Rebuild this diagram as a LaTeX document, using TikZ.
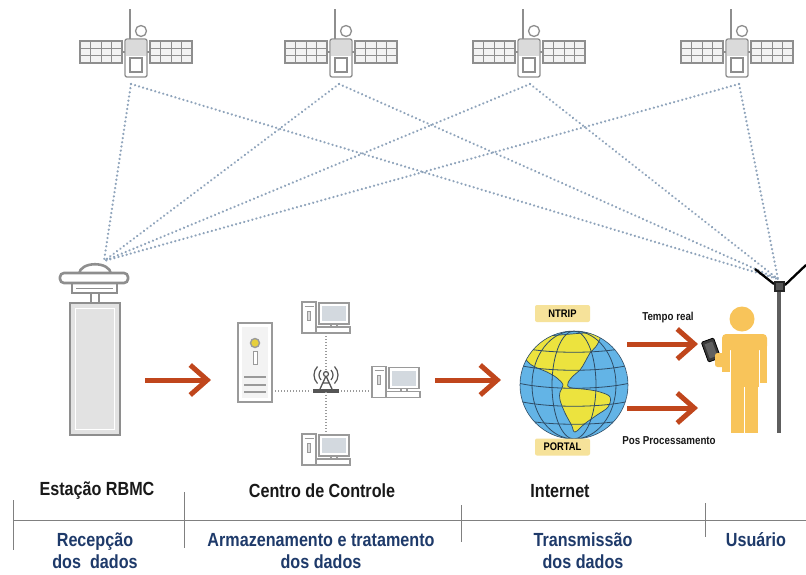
\documentclass[tikz,border=0pt]{standalone}
\usepackage{fontspec}
\setmainfont{Liberation Sans}
\newfontfamily\narrowfont{Liberation Sans}[FakeStretch=0.85]
\usetikzlibrary{arrows.meta}

\definecolor{satgray}{HTML}{8E8E8E}
\definecolor{panelfill}{HTML}{F3F3F3}
\definecolor{bodyfill}{HTML}{DADADA}
\definecolor{dotblue}{HTML}{8FA4BB}
\definecolor{rust}{HTML}{C0461C}
\definecolor{globeblue}{HTML}{63B4E6}
\definecolor{landyellow}{HTML}{ECE33E}
\definecolor{gridline}{HTML}{2E4C66}
\definecolor{tagyellow}{HTML}{F6E29A}
\definecolor{personyellow}{HTML}{F8C45A}
\definecolor{navy}{HTML}{1E3A6A}
\definecolor{pcgray}{HTML}{9A9A9A}
\definecolor{screenfill}{HTML}{D3D9DF}
\definecolor{stationfill}{HTML}{E2E2E2}
\definecolor{routerdark}{HTML}{555555}
\definecolor{ledyellow}{HTML}{E6CF3C}
\definecolor{tabletdark}{HTML}{3A3A3A}
\definecolor{polegray}{HTML}{5E5E5E}

\tikzset{
  satline/.style={draw=satgray, line width=1.3pt},
  satthin/.style={draw=satgray, line width=0.8pt},
  sigline/.style={draw=dotblue, line width=2.5pt, line cap=round, dash pattern=on 0.01pt off 4.2pt},
  lan/.style={draw=pcgray, line width=1.3pt, dash pattern=on 1.4pt off 1.6pt},
  pcline/.style={draw=pcgray, line width=1.4pt},
  pcthin/.style={draw=pcgray, line width=0.8pt},
  station/.style={draw=satgray, line width=2.6pt},
  flow/.style={draw=rust, line width=5pt,
    -{Straight Barb[length=17pt, width=30pt]}},
  tag/.style={fill=tagyellow, rounded corners=2pt, minimum width=55pt,
    minimum height=17pt, inner sep=0pt, font=\narrowfont\bfseries\fontsize{11}{12}\selectfont},
  lbl/.style={inner sep=0pt, font=\narrowfont\bfseries\fontsize{19}{22}\selectfont, text=black!90},
  stage/.style={inner sep=0pt, align=center, font=\narrowfont\bfseries\fontsize{19}{22}\selectfont, text=navy},
  small/.style={inner sep=0pt, font=\narrowfont\bfseries\fontsize{11.5}{13}\selectfont, text=black!90},
  slot/.style={inner sep=0pt, outer sep=0pt},
  rule/.style={draw=gray, line width=0.9pt},
  % satellite drawn from the top centre of its body
  sat/.pic={
    \foreach \s in {-1,1}{
      \draw[satline, fill=panelfill] (14*\s,2) rectangle (56*\s,24);
      \foreach \c in {24.5,35,45.5} \draw[satthin] (\c*\s,2) -- (\c*\s,24);
      \draw[satthin] (14*\s,9.3) -- (56*\s,9.3);
      \draw[satthin] (14*\s,16.7) -- (56*\s,16.7);
      \draw[satline] (11*\s,13) -- (14*\s,13);
    }
    \draw[satline, fill=white, rounded corners=2pt] (-11,0) rectangle (11,38);
    \fill[bodyfill] (-9.6,1.4) rectangle (9.6,17);
    \draw[satline] (-6,19) rectangle (6,33);
    \draw[satline] (-6,0) -- (-6,-30);
    \draw[satline, fill=white] (5,-8) circle[radius=5.5pt];
  },
  % desktop computer drawn from its top left corner
  pc/.pic={
    \draw[pcline, fill=white] (0,0) rectangle (14,31);
    \draw[pcthin] (2.5,4) -- (11.5,4);
    \draw[pcthin, fill=bodyfill] (5.5,9) rectangle (8.5,18);
    \draw[pcline, fill=white] (17,1) rectangle (47,22);
    \fill[screenfill] (20,4) rectangle (44,19);
    \draw[pcline] (14,25) -- (48,25) -- (48,31) -- (14,31);
    \draw[pcline] (29,22) -- (29,25) (35,22) -- (35,25);
  },
  % wireless router drawn from its centre
  router/.pic={
    \fill[routerdark] (-13,8) rectangle (13,12);
    \draw[routerdark, line width=1.3pt] (-6,8) -- (0,-5) -- (6,8) (-3.5,2) -- (3.5,2);
    \draw[routerdark, line width=1.2pt, fill=white] (0,-7) circle[radius=2.5pt];
    \foreach \r in {7,12}{
      \draw[routerdark, line width=1.2pt] (0,-6) ++(135:\r pt) arc[start angle=135, end angle=225, radius=\r pt];
      \draw[routerdark, line width=1.2pt] (0,-6) ++(-45:\r pt) arc[start angle=-45, end angle=45, radius=\r pt];
    }
  }
}

\begin{document}
\begin{tikzpicture}[x=1pt, y=-1pt]
\useasboundingbox (0,0) rectangle (806,574);
\fill[white] (0,0) rectangle (806,574);

% ---------- receiving antennas (signal end points) ----------
\coordinate (rbmcant) at (104,261);
\coordinate (roverant) at (778,279);

% ---------- satellites ----------
\foreach \n/\x/\dx in {1/136/-5, 2/341/-2, 3/529/1, 4/737/2}{
  \pic at (\x,39) {sat};
  \coordinate (sat\n) at (\x+\dx,84);
}

% ---------- signal paths ----------
\foreach \n in {1,...,4}{
  \draw[sigline] (sat\n) -- (rbmcant);
  \draw[sigline] (sat\n) -- (roverant);
}

% ---------- RBMC station ----------
\node[slot, minimum width=50pt, minimum height=132pt] (rbmc) at (95,369) {};
\draw[station, fill=stationfill] (rbmc.north west) rectangle (rbmc.south east);
\draw[white, line width=1.2pt] (75.5,308.5) rectangle (114.5,429.5);
\draw[satline, fill=white] (91,292) rectangle (99,303);
\draw[station, fill=white] (72,283) rectangle (117,293);
\draw[satthin] (76,288) -- (113,288);
\draw[station, fill=white] (79,274) .. controls (80,261) and (110,261) .. (111,274);
\draw[station, fill=white, rounded corners=4pt] (60,273) rectangle (128,283);

% ---------- control centre ----------
\node[slot, minimum width=34pt, minimum height=79pt] (server) at (255,362.5) {};
\draw[pcline, fill=white] (server.north west) rectangle (server.south east);
\fill[panelfill] (242,327) rectangle (268,398);
\draw[pcline, fill=ledyellow] (255,343) circle[radius=4.5pt];
\draw[pcthin, fill=white] (253,351) rectangle (257,364);
\foreach \yy in {377,385,392} \draw[pcline] (244,\yy) -- (266,\yy);

\node[slot, minimum width=48pt, minimum height=31pt] (pcTop) at (326,317.5) {};
\node[slot, minimum width=48pt, minimum height=31pt] (pcRight) at (396,382) {};
\node[slot, minimum width=48pt, minimum height=31pt] (pcBot) at (326,449.5) {};
\foreach \p in {pcTop,pcRight,pcBot} \pic at (\p.north west) {pc};

\node[slot, minimum width=28pt, minimum height=22pt] (router) at (326,381) {};
\pic at (router.center) {router};
\coordinate (routerbase) at (326,391);

\draw[lan] (server.east |- routerbase) -- ([xshift=-15pt]routerbase);
\draw[lan] ([xshift=15pt]routerbase) -- (pcRight.west |- routerbase);
\draw[lan] (pcTop.south) -- ([yshift=-3pt]router.north);
\draw[lan] (router.south) -- (pcBot.north);

% ---------- flow arrows ----------
\coordinate (f1a) at (145,380); \coordinate (f1b) at (211,380);
\coordinate (f2a) at (435,380); \coordinate (f2b) at (501,380);
\draw[flow] (f1a) -- (f1b);
\draw[flow] (f2a) -- (f2b);

% ---------- internet globe ----------
\node[slot, circle, minimum size=108pt] (globe) at (574,385) {};
\begin{scope}
  \clip (globe.center) circle[radius=54pt];
  \fill[globeblue] (globe.center) circle[radius=54pt];
  \fill[landyellow] plot[smooth cycle, tension=0.6] coordinates {
    (530,340) (543,336.5) (560,335) (587,333) (600,335) (597,345) (590,353)
    (585,362) (580,370) (573,376) (568,383) (570,387.5) (587,389.5) (600,392)
    (610,397) (608,407) (597,415) (585,423.5) (575,432) (571.5,425) (565,413)
    (560,400) (560,392) (563,385) (557,378) (547,372) (535,367) (528,362) (523,353)};
  \draw[gridline, line width=0.7pt] plot[smooth cycle, tension=0.6] coordinates {
    (530,340) (543,336.5) (560,335) (587,333) (600,335) (597,345) (590,353)
    (585,362) (580,370) (573,376) (568,383) (570,387.5) (587,389.5) (600,392)
    (610,397) (608,407) (597,415) (585,423.5) (575,432) (571.5,425) (565,413)
    (560,400) (560,392) (563,385) (557,378) (547,372) (535,367) (528,362) (523,353)};
  \foreach \dy in {-38,-20,-2,16,34}
    \draw[gridline, line width=0.8pt] (518,385+\dy) .. controls (548,392+\dy) and (600,392+\dy) .. (630,385+\dy);
  \draw[gridline, line width=0.8pt] (globe.center) ellipse[x radius=22pt, y radius=54pt];
  \draw[gridline, line width=0.8pt] (globe.center) ellipse[x radius=42pt, y radius=54pt];
\end{scope}
\draw[gridline, line width=0.6pt] (globe.center) circle[radius=54pt];

\node[tag] (ntrip) at (562.5,313.5) {NTRIP};
\node[tag] (portal) at (562.5,447) {PORTAL};

% ---------- user ----------
\coordinate (f3a) at (627,344); \coordinate (f3b) at (698,344);
\coordinate (f4a) at (627,408); \coordinate (f4b) at (698,408);
\draw[flow] (f3a) -- (f3b);
\draw[flow] (f4a) -- (f4b);
\node[small] (treal) at (668,318) {Tempo real};
\node[small] (tpos) at (669,441) {Pos Processamento};

\node[slot, minimum width=45pt, minimum height=128pt] (user) at (744.5,369) {};
\begin{scope}[personyellow]
  \fill (742,319) circle[radius=12.5pt];
  \fill[rounded corners=4pt] (722,350) -- (722,334) -- (767,334) -- (767,350) -- cycle;
  \fill (731,340) rectangle (759,387);
  \fill (722,342) rectangle (729.6,372);
  \fill (760.4,342) rectangle (767,383);
  \fill (731,386) rectangle (743.6,433);
  \fill (745.4,386) rectangle (758,433);
\end{scope}
\begin{scope}[shift={(711,350)}, rotate=20]
  \draw[fill=tabletdark, draw=black, line width=0.8pt, rounded corners=1.2pt] (-6.5,-10.5) rectangle (6.5,10.5);
  \fill[gray!75!black] (-4,-7.5) rectangle (4,7.5);
\end{scope}
\fill[personyellow, rounded corners=2.5pt] (715,353) rectangle (725,367);

% ---------- rover pole ----------
\draw[polegray, line width=4pt] (779,290) -- (779,433);
\draw[black, line width=2.3pt] (774,284) -- (755,269);
\draw[black, line width=2.3pt] (785,285) -- (806,265);
\draw[fill=routerdark, draw=black!85, line width=1.2pt] (775,282) rectangle (784,291);

% ---------- stage captions ----------
\node[lbl] (tEst) at (97,491) {Estação RBMC};
\node[lbl] (tCen) at (322,491) {Centro de Controle};
\node[lbl] (tInt) at (560,491) {Internet};

\draw[rule] (13,520) -- (806,520);
\draw[rule] (13,500) -- (13,550);
\draw[rule] (184,492) -- (184,548);
\draw[rule] (461,505) -- (461,542);
\draw[rule] (705,503) -- (705,537);

\node[stage] (sRec) at (95,551) {Recepção\\dos~~dados};
\node[stage] (sArm) at (321,551) {Armazenamento e tratamento\\dos dados};
\node[stage] (sTra) at (583,551) {Transmissão\\dos dados};
\node[stage] (sUsu) at (756,540) {Usuário};
\end{tikzpicture}
\end{document}
